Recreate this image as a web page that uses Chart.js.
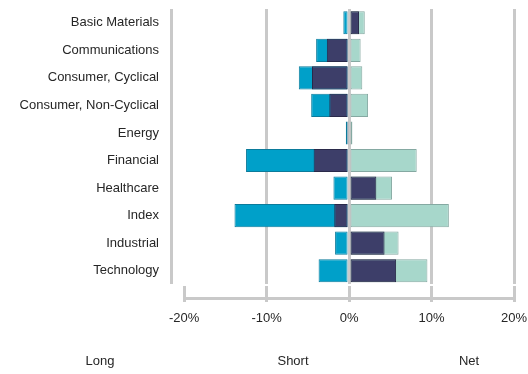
<!DOCTYPE html>
<html>
<head>
<meta charset="utf-8">
<script src="https://cdn.jsdelivr.net/npm/chart.js@4.4.1/dist/chart.umd.min.js"></script>
<style>
  html, body { margin: 0; padding: 0; background: #fff; }
  #wrap { position: relative; width: 528px; height: 374px; }
  #legend { position: absolute; left: 0; top: 353px; width: 528px; height: 16px;
            font: 13px "Liberation Sans", Arial, sans-serif; color: #262626; }
  #legend span { position: absolute; top: 0; transform: translateX(-50%); white-space: nowrap; }
</style>
</head>
<body>
<div id="wrap">
  <canvas id="chart" width="528" height="374"></canvas>
  <div id="legend"></div>
</div>
<script>
// Exposição por setor, em % do patrimônio
const sectors = ['Basic Materials', 'Communications', 'Consumer, Cyclical', 'Consumer, Non-Cyclical',
                 'Energy', 'Financial', 'Healthcare', 'Index', 'Industrial', 'Technology'];
const longPct  = [1.9, 1.4, 1.6, 2.3, 0.4, 8.2, 5.2, 12.1, 6.0, 9.5];
const shortPct = [-0.7, -4.0, -6.1, -4.6, -0.4, -12.5, -1.9, -13.9, -1.7, -3.7];
const netPct   = [1.2, -2.7, -4.5, -2.4, -0.1, -4.3, 3.3, -1.8, 4.3, 5.7];
const xTicks = [-20, -10, 0, 10, 20];

const GRID = '#c9c9c9';
const NONE = 'rgba(0,0,0,0)';
const X_MIN = -21.6;

Chart.defaults.font.family = '"Liberation Sans", Arial, sans-serif';
Chart.defaults.font.size = 13;
Chart.defaults.color = '#262626';

// linhas verticais: param antes do eixo inferior, que fica um pouco abaixo das barras
function verticalGrid(ctx) {
  const chart = ctx.chart;
  const area = chart.chartArea;
  if (!area || !ctx.tick) return GRID;
  const y = chart.scales.y;
  const h = area.bottom - area.top;
  const clamp = v => Math.min(1, Math.max(0, v));
  const rowsEnd = clamp((y.getPixelForValue(sectors.length - 0.5) - area.top) / h);
  const axisTop = clamp((y.getPixelForValue(sectors.length - 0.43) - area.top) / h);
  const g = chart.ctx.createLinearGradient(0, area.top, 0, area.bottom);
  const v = ctx.tick.value;
  if (v === X_MIN) {
    g.addColorStop(0, GRID); g.addColorStop(rowsEnd, GRID);
    g.addColorStop(rowsEnd, NONE); g.addColorStop(1, NONE);
  } else if (v === xTicks[0]) {
    g.addColorStop(0, NONE); g.addColorStop(axisTop, NONE);
    g.addColorStop(axisTop, GRID); g.addColorStop(1, GRID);
  } else {
    g.addColorStop(0, GRID); g.addColorStop(rowsEnd, GRID);
    g.addColorStop(rowsEnd, NONE); g.addColorStop(axisTop, NONE);
    g.addColorStop(axisTop, GRID); g.addColorStop(1, GRID);
  }
  return g;
}

// linha do eixo x: só entre -20% e 20%
function axisLine(ctx) {
  if (!ctx.tick || ctx.tick.value !== sectors.length) return NONE;
  const chart = ctx.chart;
  const area = chart.chartArea;
  if (!area) return GRID;
  const x = chart.scales.x;
  const w = area.right - area.left;
  const start = Math.max(0, (x.getPixelForValue(xTicks[0]) - area.left) / w);
  const g = chart.ctx.createLinearGradient(area.left, 0, area.right, 0);
  g.addColorStop(0, NONE); g.addColorStop(start, NONE);
  g.addColorStop(start, GRID); g.addColorStop(1, GRID);
  return g;
}

const toPoints = arr => arr.map((v, i) => ({ x: v, y: i }));

const chart = new Chart(document.getElementById('chart'), {
  type: 'bar',
  data: {
    datasets: [
      { label: 'Long', data: toPoints(longPct), backgroundColor: '#a7d7cb', borderColor: '#85a9a2', order: 2 },
      { label: 'Short', data: toPoints(shortPct), backgroundColor: '#00a0c9', borderColor: '#0b7b9b', order: 1 },
      { label: 'Net', data: toPoints(netPct), backgroundColor: '#3d3e69', borderColor: '#2a2a4a', order: 0 }
    ]
  },
  options: {
    indexAxis: 'y',
    responsive: false,
    animation: false,
    layout: { padding: { top: 9, right: 14, bottom: 40, left: 0 } },
    datasets: {
      bar: {
        grouped: false,
        categoryPercentage: 1,
        barPercentage: 0.84,
        borderWidth: 1,
        borderSkipped: false
      }
    },
    plugins: {
      legend: { display: false },
      tooltip: { enabled: false }
    },
    scales: {
      x: {
        type: 'linear',
        min: X_MIN,
        max: 20,
        afterBuildTicks: s => { s.ticks = [X_MIN, ...xTicks].map(v => ({ value: v })); },
        afterFit: s => { s.paddingLeft = 0; s.paddingRight = 0; },
        border: { display: false },
        grid: { drawTicks: false, lineWidth: 3, color: verticalGrid },
        ticks: {
          autoSkip: false,
          padding: 8,
          maxRotation: 0,
          callback: v => xTicks.includes(v) ? v + '%' : ''
        }
      },
      y: {
        type: 'linear',
        reverse: true,
        offset: false,
        min: -0.5,
        max: 10.15,
        afterBuildTicks: s => { s.ticks = sectors.map((_, i) => ({ value: i })).concat({ value: sectors.length }); },
        afterFit: s => { s.width = 171; s.paddingTop = 0; s.paddingBottom = 0; },
        border: { display: false },
        grid: { offset: false, drawTicks: false, lineWidth: 3, color: axisLine },
        ticks: {
          autoSkip: false,
          padding: 12,
          callback: v => sectors[v] ?? ''
        }
      }
    }
  }
});

// legenda só com texto, abaixo do gráfico
const legendCenters = [100, 293, 469];
const legend = document.getElementById('legend');
chart.data.datasets.forEach((ds, i) => {
  const span = document.createElement('span');
  span.textContent = ds.label;
  span.style.left = legendCenters[i] + 'px';
  legend.appendChild(span);
});
</script>
</body>
</html>
